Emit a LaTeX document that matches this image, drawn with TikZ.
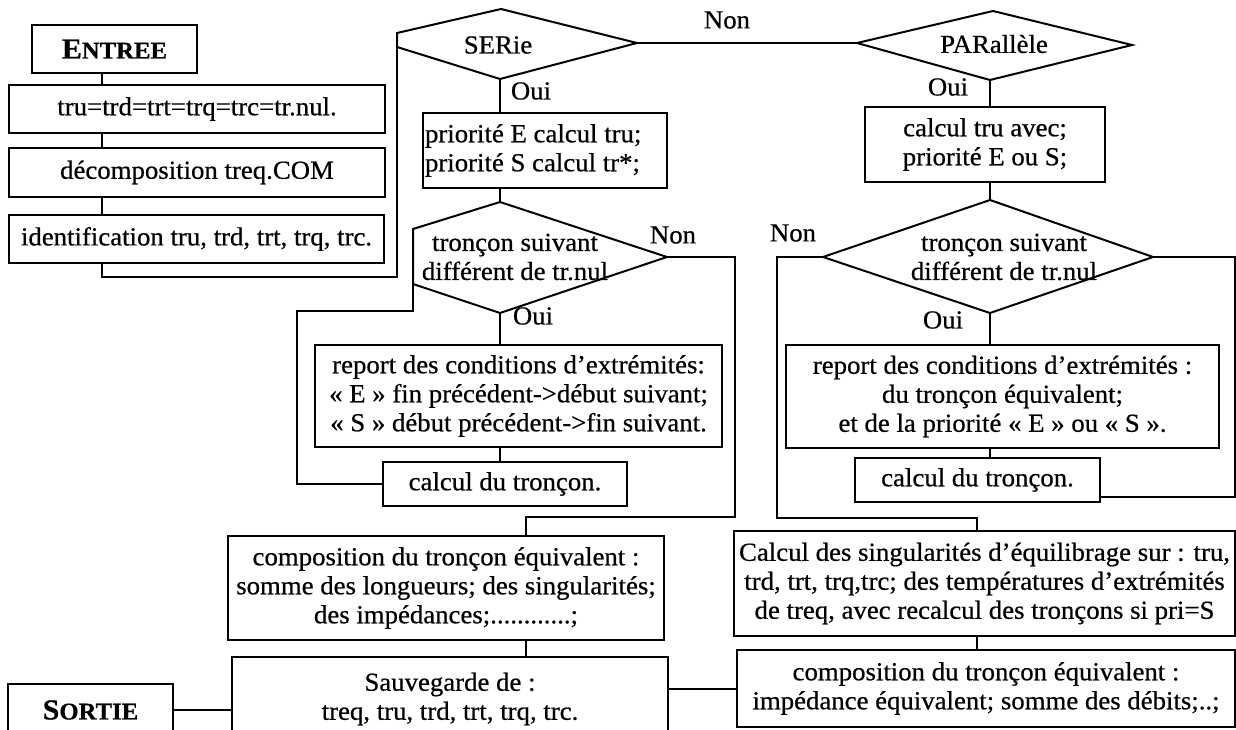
\documentclass[tikz,border=0pt]{standalone}
\usepackage{fontspec}
\setmainfont{Liberation Serif}[FakeStretch=1.03,FakeBold=0.6]
\begin{document}
\begin{tikzpicture}[x=1pt,y=-1pt, line width=2pt,
  box/.style={draw, line width=2pt, inner xsep=2pt, inner ysep=0pt, align=center, font=\fontsize{26}{29}\selectfont},
  txt/.style={inner sep=0pt, align=center, font=\fontsize{26}{29}\selectfont},
  lbl/.style={inner sep=0pt, font=\fontsize{26}{29}\selectfont}]
\fill[white] (0,0) rectangle (1236,730);
\useasboundingbox (0,0) rectangle (1236,730);

% ---- left column
\node[box, minimum width=165pt, minimum height=48pt] (entree) at (114.5,49) {\bfseries\fontsize{29}{30}\selectfont E\fontsize{24}{30}\selectfont NTREE};
\node[box, minimum width=376pt, minimum height=48pt] (b1) at (197,109) {tru=trd=trt=trq=trc=tr.nul.};
\node[box, minimum width=376pt, minimum height=49pt] (b2) at (197,172.5) {décomposition treq.COM};
\node[box, minimum width=375pt, minimum height=48pt] (b3) at (196.5,239) {identification tru, trd, trt, trq, trc.};
\coordinate (cx) at (102,0);
\draw (entree.south -| cx) -- (b1.north -| cx);
\draw (b1.south -| cx) -- (b2.north -| cx);
\draw (b2.south -| cx) -- (b3.north -| cx);

% ---- SERie decision
\coordinate (sT) at (501,9); \coordinate (sR) at (637,43); \coordinate (sB) at (500,79);
\coordinate (sL1) at (397,33); \coordinate (sL2) at (397,47); \coordinate (sW) at (397,43);
\draw (sL1) -- (sT) -- (sR) -- (sB) -- (sL2) -- cycle;
\node[txt] (serie) at (498,45) {SERie};
\draw (b3.south -| cx) -- ++(0,13) -| (sW);

% ---- PARallele decision
\coordinate (pT) at (993,11); \coordinate (pR) at (1132,45); \coordinate (pB) at (990,80); \coordinate (pL) at (857,43);
\draw (pL) -- (pT) -- (pR) -- (pB) -- cycle;
\node[txt] (par) at (994,44) {PARallèle};
\draw (sR) -- (pL);
\node[lbl] (non1) at (727,20) {Non};

% ---- SERie column
\coordinate (colS) at (500,0);
\node[box, text width=240pt, align=flush left, minimum height=75pt] (sbox) at (545,150.5) {priorité E calcul tru;\\priorité S calcul tr*;};
\draw (sB) -- (sB |- sbox.north);
\node[lbl] (oui1) at (531,91) {Oui};
\coordinate (dT) at (500,202); \coordinate (dR) at (667,257); \coordinate (dB) at (500,313);
\coordinate (dL2) at (413,284); \coordinate (dL1) at (413,229);
\draw (dL1) -- (dT) -- (dR) -- (dB) -- (dL2) -- cycle;
\node[txt] (d2) at (515,257) {tronçon suivant\\différent de tr.nul};
\draw (sbox.south -| colS) -- (dT);
\node[lbl] (non2) at (673,235) {Non};
\node[box, minimum width=407pt, minimum height=102pt] (srep) at (518.5,396) {report des conditions d’extrémités:\\« E » fin précédent->début suivant;\\« S » début précédent->fin suivant.};
\draw (dB) -- (srep.north -| colS);
\node[lbl] (oui2) at (533,316) {Oui};
\node[box, minimum width=244pt, minimum height=44pt] (scalc) at (505,484) {calcul du tronçon.};
\draw (srep.south -| colS) -- (scalc.north -| colS);
\coordinate (loopS) at (297,311);
\draw (scalc.west) -| (loopS) -| (dL2);

\node[box, minimum width=436pt, minimum height=104pt] (scomp) at (446,588) {composition du tronçon équivalent :\\somme des longueurs; des singularités;\\des impédances;............;};
\coordinate (nS) at (735,517); \coordinate (dropS) at (526,0);
\draw (dR) -| (nS) -| (scomp.north -| dropS);

\node[txt, minimum width=434pt, minimum height=82pt] (sauv) at (450,699) {Sauvegarde de :\\treq, tru, trd, trt, trq, trc.};
\draw ([yshift=-30pt]sauv.south west) -- (sauv.north west) -- (sauv.north east) -- ([yshift=-30pt]sauv.south east);
\draw (scomp.south -| dropS) -- (sauv.north -| dropS);

\node[box, minimum width=165pt, minimum height=52pt] (sortie) at (90.5,710) {\bfseries\fontsize{29}{30}\selectfont S\fontsize{24}{30}\selectfont ORTIE};
\draw (sortie.east) -- (sortie.east -| sauv.west);

% ---- PARallele column
\coordinate (colP) at (990,0);
\node[box, minimum width=240pt, minimum height=75pt] (pbox) at (985,144.5) {calcul tru avec;\\priorité E ou S;};
\draw (pB) -- (pbox.north -| colP);
\node[lbl] (oui3) at (948,87) {Oui};
\coordinate (qT) at (990,200); \coordinate (qR) at (1153,257); \coordinate (qB) at (990,313); \coordinate (qL) at (823,257);
\draw (qL) -- (qT) -- (qR) -- (qB) -- cycle;
\node[txt] (d3) at (1004,257) {tronçon suivant\\différent de tr.nul};
\draw (pbox.south -| colP) -- (qT);
\node[lbl] (non3) at (793,233) {Non};
\node[box, minimum width=433pt, minimum height=103pt] (prep) at (1002.5,396.5) {report des conditions d’extrémités :\\du tronçon équivalent;\\et de la priorité « E » ou « S ».};
\draw (qB) -- (prep.north -| colP);
\node[lbl] (oui4) at (943,320) {Oui};
\node[box, minimum width=245pt, minimum height=44pt] (pcalc) at (977.5,480) {calcul du tronçon.};
\draw (prep.south -| colP) -- (pcalc.north -| colP);
\coordinate (loopP) at (1235,497);
\draw (qR) -| (loopP) -- (loopP -| pcalc.east);

\node[box, minimum width=501pt, minimum height=105pt] (sing) at (984.5,583.5) {Calcul des singularités d’équilibrage sur : tru,\\trd, trt, trq,trc; des températures d’extrémités\\de treq, avec recalcul des tronçons si pri=S};
\coordinate (nP) at (777,518); \coordinate (dropP) at (977,0);
\draw (qL) -| (nP) -| (sing.north -| dropP);
\node[box, minimum width=498pt, minimum height=77pt] (pcomp) at (986,688.5) {composition du tronçon équivalent :\\impédance équivalent; somme des débits;..;};
\draw (sing.south -| dropP) -- (pcomp.north -| dropP);
\draw (sauv.east |- pcomp.west) -- (pcomp.west);
\end{tikzpicture}
\end{document}
